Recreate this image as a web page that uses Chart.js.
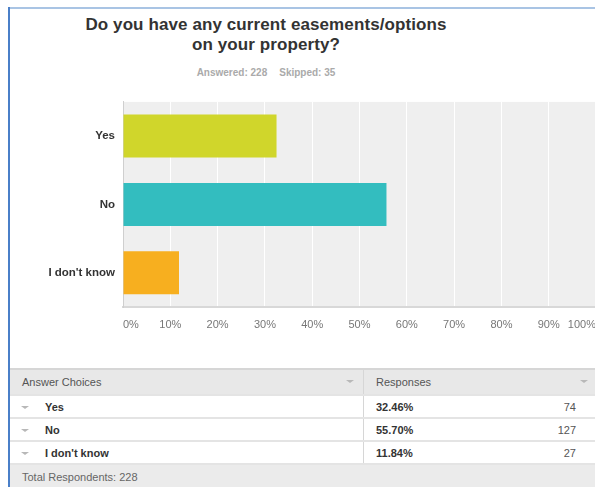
<!DOCTYPE html>
<html>
<head>
<meta charset="utf-8">
<script src="https://cdn.jsdelivr.net/npm/chart.js@4/dist/chart.umd.min.js"></script>
<style>
  html, body { margin: 0; padding: 0; background: #fff; }
  body { width: 595px; height: 487px; overflow: hidden; position: relative;
         font-family: "Liberation Sans", Arial, sans-serif; }
  #frameTop { position: absolute; left: 8px; top: 7px; width: 600px; height: 2px; background: #a9c4e4; }
  #frameLeft { position: absolute; left: 8px; top: 7px; width: 2px; height: 490px; background: #4a7fc8; }
  #title { position: absolute; left: 10px; width: 512px; top: 15px; text-align: center;
           font-weight: bold; font-size: 17px; line-height: 20px; color: #333; letter-spacing: 0.1px; }
  #sub { position: absolute; left: 10px; width: 512px; top: 67px; text-align: center;
         font-weight: bold; font-size: 10px; color: #aaa; }
  #sub span + span { margin-left: 12px; }
  #chartBox { position: absolute; left: 0; top: 87px; width: 640px; height: 250px; }
  #tbl { position: absolute; left: 10px; top: 368px; width: 600px; border-collapse: collapse;
         font-size: 11px; color: #333; }
  #tbl td { padding: 0; height: 21px; border-top: 2px solid #e4e4e4; position: relative; }
  #tbl tr.head td { background: #e8e8e8; color: #555; height: 24px; border-top: 2px solid #d6d6d6; }
  #tbl tr.foot td { background: #ebebeb; color: #666; height: 22px; border-right: none; }
  #tbl td.c1 { width: 353px; border-right: 1px solid #d6d6d6; }
  #tbl tr.foot td.c1 { border-right: none; }
  .arrow { position: absolute; width: 0; height: 0; border-left: 4px solid transparent;
           border-right: 4px solid transparent; border-top: 3px solid #b8b8b8; top: 10px; }
  .lab { position: absolute; left: 35px; top: 5px; font-weight: bold; }
  .pct { position: absolute; left: 12px; top: 5px; font-weight: bold; }
  .cnt { position: absolute; right: 34px; top: 5px; color: #555; }
  .hd { position: absolute; left: 12px; top: 6px; }
</style>
</head>
<body>
<div id="frameTop"></div>
<div id="frameLeft"></div>
<div id="title">Do you have any current easements/options<br>on your property?</div>
<div id="sub"><span>Answered: 228</span><span>Skipped: 35</span></div>
<div id="chartBox"><canvas id="c" width="640" height="250"></canvas></div>
<table id="tbl"></table>
<script>
// Survey answers and their share of respondents
const categories = ["Yes", "No", "I don't know"];
const percents = [32.46, 55.70, 11.84];
const counts = [74, 127, 27];
const barColors = ["#d0d62b", "#33bdbf", "#f7af1f"];
const xTicks = ["0%", "10%", "20%", "30%", "40%", "50%", "60%", "70%", "80%", "90%", "100%"];
const totalRespondents = 228;

// light grey panel behind the bars
const plotBg = {
  id: "plotBg",
  beforeDraw(chart) {
    const a = chart.chartArea, ctx = chart.ctx;
    ctx.save();
    ctx.fillStyle = "#efefef";
    ctx.fillRect(a.left, a.top, a.right - a.left, a.bottom - a.top);
    ctx.restore();
  }
};

new Chart(document.getElementById("c"), {
  type: "bar",
  data: {
    labels: categories,
    datasets: [{
      data: percents,
      backgroundColor: barColors,
      borderWidth: 0,
      categoryPercentage: 1,
      barPercentage: 0.63
    }]
  },
  options: {
    indexAxis: "y",
    responsive: false,
    animation: false,
    layout: { padding: { left: 0, right: 44, top: 10, bottom: 0 } },
    plugins: { legend: { display: false }, tooltip: { enabled: false } },
    scales: {
      x: {
        min: 0, max: 100,
        ticks: {
          stepSize: 10,
          align: "inner",
          padding: 11,
          color: "#777",
          font: { family: "'Liberation Sans', Arial, sans-serif", size: 11 },
          callback: (v, i) => xTicks[i]
        },
        grid: { color: "#ffffff", lineWidth: 1, drawTicks: false },
        border: { color: "#d8d8d8", width: 2 },
        afterFit: s => { s.height = 30; }
      },
      y: {
        ticks: {
          padding: 8,
          color: "#333",
          font: { family: "'Liberation Sans', Arial, sans-serif", size: 11.5, weight: "bold" }
        },
        grid: { display: false, drawTicks: false },
        border: { color: "#cfcfcf", width: 1 },
        afterFit: s => { s.width = 123; }
      }
    }
  },
  plugins: [plotBg]
});

// response table under the chart
const tbl = document.getElementById("tbl");
const arrow = left => `<span class="arrow" style="left:${left}px"></span>`;
let html = `<tr class="head"><td class="c1"><span class="hd">Answer Choices</span>${arrow(336)}</td>` +
           `<td><span class="hd">Responses</span>${arrow(216)}</td></tr>`;
categories.forEach((c, i) => {
  html += `<tr><td class="c1">${arrow(11)}<span class="lab">${c}</span></td>` +
          `<td><span class="pct">${percents[i].toFixed(2)}%</span><span class="cnt">${counts[i]}</span></td></tr>`;
});
html += `<tr class="foot"><td class="c1"><span class="hd">Total Respondents: ${totalRespondents}</span></td><td></td></tr>`;
tbl.innerHTML = html;
</script>
</body>
</html>
